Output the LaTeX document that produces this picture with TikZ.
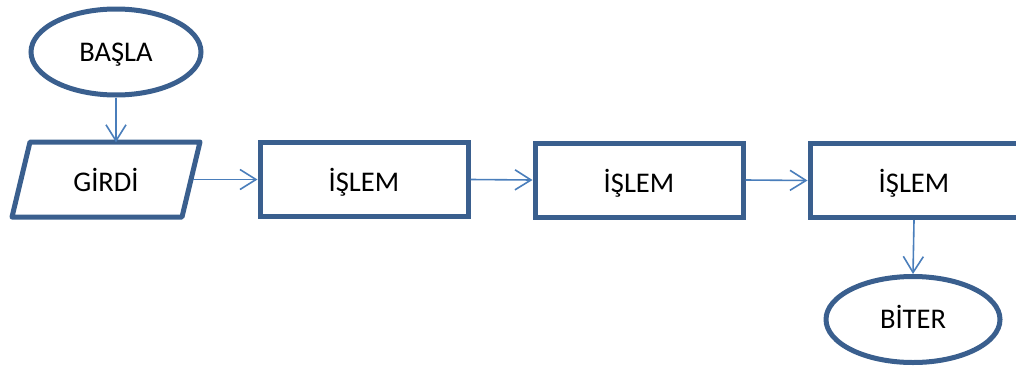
\documentclass[tikz,border=0pt]{standalone}
\usepackage{fontspec}
\setmainfont{Carlito}
\usetikzlibrary{arrows.meta,shapes.geometric}
\definecolor{frame}{HTML}{3A5F8E}
\definecolor{flow}{HTML}{4A7EBB}
\tikzset{
  label font/.style={font=\fontsize{28.5}{32}\selectfont},
  box text/.style={text height=26pt, text depth=1.6pt},
  box/.style={draw=frame, line width=5pt, rectangle, minimum width=208pt, minimum height=74pt, inner sep=0pt, label font, box text},
  terminal/.style={draw=frame, line width=5pt, ellipse, minimum width=170pt, minimum height=86pt, inner sep=0pt, label font, text height=20pt, text depth=1.6pt},
  iobox/.style={inner sep=0pt, minimum width=174pt, minimum height=74pt, label font, box text},
  link/.style={draw=flow, line width=1.6pt, -{Straight Barb[length=16pt,width=20pt,line width=1.6pt]}}
}
\begin{document}
\begin{tikzpicture}[x=1pt,y=-1pt]
\useasboundingbox (0,0) rectangle (1016,367);
\clip (0,0) rectangle (1016,367);
% start / end terminals
\node[terminal] (basla) at (116,52) {BAŞLA};
\node[terminal, minimum width=174pt] (biter) at (913,319.5) {BİTER};
% input block: parallelogram around a plain text node
\node[iobox] (girdi) at (106,179.5) {GİRDİ};
\draw[frame, line width=5pt, line join=round] (30,142) -- (200,142) -- (182,217) -- (12,217) -- cycle;
% process boxes
\node[box] (p1) at (364,179.5) {İŞLEM};
\node[box] (p2) at (639,180) {İŞLEM};
\node[box] (p3) at (914,180.5) {İŞLEM};
% flow connectors
\draw[link] (basla.south) -- (basla.south |- girdi.north);
\draw[link] (girdi.east) -- (p1.west);
\draw[link] (p1.east) -- (p2.west);
\draw[link] (p2.east) -- (p3.west);
\draw[link] (p3.south) -- (biter.north);
\end{tikzpicture}
\end{document}
